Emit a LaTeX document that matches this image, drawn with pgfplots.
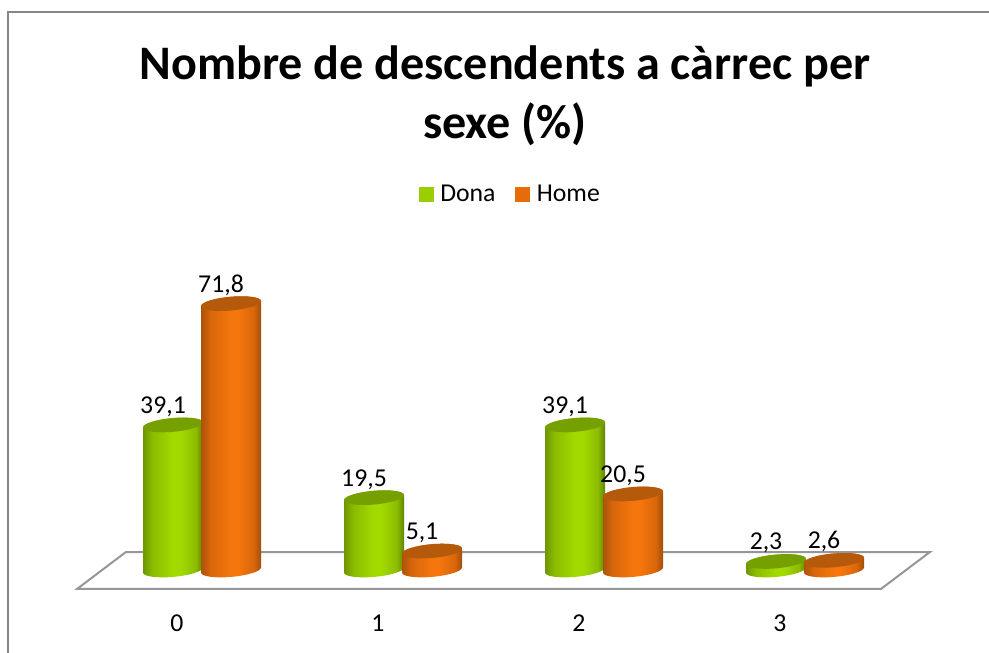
\documentclass[border=0pt]{standalone}
\usepackage{pgfplots}
\usepackage{pgfplotstable}
\pgfplotsset{compat=1.18}
\usepackage{fontspec}
\setmainfont{Carlito}
\newlength\px \setlength\px{0.75pt}
\definecolor{gDark}{HTML}{5F8300}
\definecolor{gLeft}{HTML}{6E9600}
\definecolor{gMid}{HTML}{8CBC00}
\definecolor{gBright}{HTML}{A2DA00}
\definecolor{gTop}{HTML}{76A000}
\definecolor{gLegend}{HTML}{9BCE00}
\definecolor{oDark}{HTML}{A14E09}
\definecolor{oLeft}{HTML}{AC5309}
\definecolor{oMid}{HTML}{D8660B}
\definecolor{oBright}{HTML}{F5760D}
\definecolor{oTop}{HTML}{B5590A}
\definecolor{oLegend}{HTML}{E66C0A}
\definecolor{floorgrey}{HTML}{969696}
\definecolor{framegrey}{HTML}{868686}
\pgfdeclarehorizontalshading{cylg}{100bp}{color(0bp)=(gLeft); color(25bp)=(gLeft); color(33bp)=(gMid); color(50bp)=(gBright); color(56bp)=(gBright); color(69bp)=(gMid); color(75bp)=(gDark); color(100bp)=(gDark)}
\pgfdeclarehorizontalshading{cylo}{100bp}{color(0bp)=(oLeft); color(25bp)=(oLeft); color(33bp)=(oMid); color(50bp)=(oBright); color(56bp)=(oBright); color(69bp)=(oMid); color(75bp)=(oDark); color(100bp)=(oDark)}
\pgfdeclareplotmark{cylempty}{}
\pgfplotstableread{
cat val
0 39.1
1 19.5
2 39.1
3 2.3
}\dona
\pgfplotstableread{
cat val
0 71.8
1 5.1
2 20.5
3 2.6
}\home
% point of a sheared ellipse: u, v on the unit circle, #3 = vertical offset
\newcommand\cp[3]{\pgfpoint{(\cx+30*(#1))*\px}{(2.55*(#1)+6.9*(#2))*\px+(#3)}}
\def\kk{0.5523}
\newcommand\drawcyl[3]{%
  \def\cx{#1}%
  \pgfmathsetlengthmacro\cylh{\val*3.71*\px}%
  \begin{pgfscope}
    \pgfpathmoveto{\cp{-1}{0}{0pt}}
    \pgfpathlineto{\cp{-1}{0}{-\cylh}}
    \pgfpathcurveto{\cp{-1}{-\kk}{-\cylh}}{\cp{-\kk}{-1}{-\cylh}}{\cp{0}{-1}{-\cylh}}
    \pgfpathcurveto{\cp{\kk}{-1}{-\cylh}}{\cp{1}{-\kk}{-\cylh}}{\cp{1}{0}{-\cylh}}
    \pgfpathlineto{\cp{1}{0}{0pt}}
    \pgfpathcurveto{\cp{1}{\kk}{0pt}}{\cp{\kk}{1}{0pt}}{\cp{0}{1}{0pt}}
    \pgfpathcurveto{\cp{-\kk}{1}{0pt}}{\cp{-1}{\kk}{0pt}}{\cp{-1}{0}{0pt}}
    \pgfpathclose
    \pgfshadepath{#2}{0}
    \pgfusepath{discard}
  \end{pgfscope}
  \begin{pgfscope}
    \pgfsetfillcolor{#3}
    \pgfpathmoveto{\cp{-1}{0}{0pt}}
    \pgfpathcurveto{\cp{-1}{-\kk}{0pt}}{\cp{-\kk}{-1}{0pt}}{\cp{0}{-1}{0pt}}
    \pgfpathcurveto{\cp{\kk}{-1}{0pt}}{\cp{1}{-\kk}{0pt}}{\cp{1}{0}{0pt}}
    \pgfpathcurveto{\cp{1}{\kk}{0pt}}{\cp{\kk}{1}{0pt}}{\cp{0}{1}{0pt}}
    \pgfpathcurveto{\cp{-\kk}{1}{0pt}}{\cp{-1}{\kk}{0pt}}{\cp{-1}{0}{0pt}}
    \pgfpathclose
    \pgfusepath{fill}
  \end{pgfscope}
}
\pgfplotsset{
  cyl/.style n args={3}{
    forget plot, scatter, only marks, mark=cylempty,
    visualization depends on={rawy \as \val},
    scatter/@pre marker code/.code={\drawcyl{#1}{#2}{#3}\scope},
    scatter/@post marker code/.code={\endscope},
  },
  vals/.style={
    forget plot, only marks, mark=cylempty,
    nodes near coords={\pgfmathprintnumber[fixed,precision=1,use comma,zerofill]{\pgfplotspointmeta}},
    every node near coord/.style={text=black, font=\fontsize{19.3}{23}\selectfont, anchor=base, inner sep=0pt, xshift=(#1-10)*\px, yshift=11.5*\px},
  },
}
\begin{document}
\begin{tikzpicture}
\useasboundingbox (0,0) rectangle (989*\px,653*\px);
\draw[framegrey, line width=1.5*\px] (8*\px,0) -- (8*\px,641*\px) -- (989*\px,641*\px);
\begin{axis}[
  at={(177*\px,83*\px)}, anchor=origin,
  x=201*\px, y=3.71*\px,
  xmin=-0.5, xmax=3.764, ymin=-5.12, ymax=86.3,
  clip=false,
  hide y axis,
  axis x line=bottom,
  axis line style={draw=none},
  xtick={0,1,2,3},
  xticklabels={0,1,2,3},
  major tick style={draw=none},
  tick label style={font=\fontsize{19.3}{23}\selectfont},
  /pgf/number format/assume math mode=true,
  xticklabel style={yshift=-18.5*\px},
  title={Nombre de descendents a càrrec per\\sexe (\%)},
  title style={align=center, font=\fontsize{36.1}{44.25}\bfseries\selectfont, anchor=base, yshift=103*\px},
  legend columns=2,
  legend style={at={(0.5,1)}, anchor=south, xshift=5.5*\px, yshift=43*\px, draw=none, fill=none,
    font=\fontsize{19.3}{23}\selectfont, inner sep=0pt,
    /tikz/column 1/.style={column sep=4*\px},
    /tikz/column 2/.style={column sep=17*\px},
    /tikz/column 3/.style={column sep=4*\px}},
  legend image code/.code={\fill[draw=none,#1] (0pt,-5.6pt) rectangle (11.25pt,5.6pt);},
]
\addlegendimage{fill=gLegend}
\addlegendentry{Dona}
\addlegendimage{fill=oLegend}
\addlegendentry{Home}
\addplot[forget plot, floorgrey, line width=2*\px, no marks, line join=miter]
  coordinates {(-0.4975,-5.12) (-0.254,4.85) (3.746,4.85) (3.502,-5.12)} -- cycle;
\addplot[cyl={-4}{cylg}{gTop}] table[x=cat,y=val] {\dona};
\addplot[vals=-4] table[x=cat,y=val] {\dona};
\addplot[cyl={54}{cylo}{oTop}] table[x=cat,y=val] {\home};
\addplot[vals=54] table[x=cat,y=val] {\home};
\end{axis}
\end{tikzpicture}
\end{document}
